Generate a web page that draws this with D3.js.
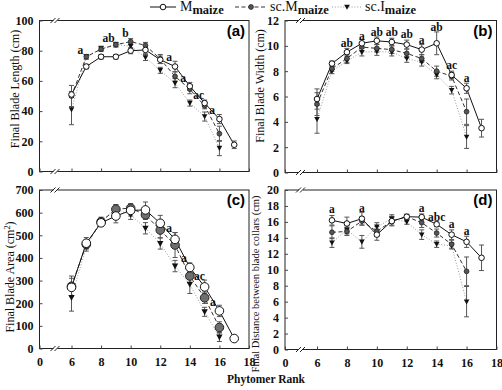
<!DOCTYPE html>
<html>
<head>
<meta charset="utf-8">
<script src="https://cdn.jsdelivr.net/npm/d3@7"></script>
<style>
  body { margin: 0; background: #fff; }
  text { font-family: "Liberation Serif", "DejaVu Serif", serif; }
</style>
</head>
<body>
<div id="chart"></div>
<script>
const width = 502,
  height = 390;

// phytomer ranks
const ranks = [6, 7, 8, 9, 10, 11, 12, 13, 14, 15, 16, 17];
const ranksD = [7, 8, 9, 10, 11, 12, 13, 14, 15, 16, 17];
const xTicks = [0, 6, 8, 10, 12, 14, 16, 18];

// (a) final blade length (cm)
const lenM = [51, 69.5, 76, 76, 80, 80.5, 74, 69.5, 56.5, 45.3, 34.7, 17.7];
const lenMErr = [2, 1.5, 1.5, 1.5, 2, 2.5, 2.5, 3.5, 2.5, 2, 3, 2.5];
const lenScM = [50, 76, 81, 84, 86, 83.5, 74.5, 63, 54.5, 43.5, 25];
const lenScMErr = [7, 1.5, 1.5, 1.5, 2, 2, 3, 3, 3, 2, 5];
const lenScI = [41, 76, 81.5, 84, 83, 75.5, 67, 58.5, 45.3, 36.4, 15.5];
const lenScIErr = [10, 1.5, 1.5, 1.5, 2, 2, 2, 3, 2, 3, 5];
const lenLetters = [
  [6.6, 80.6, "a"], [8.5, 88.7, "ab"], [9.65, 91.6, "b"], [12.6, 75.8, "a"],
  [13.55, 61.9, "a"], [14.6, 50.8, "ac"], [15.5, 40.9, "a"],
];

// (b) final blade width (cm)
const widM = [5.8, 8.6, 9.5, 10.2, 10.4, 10.3, 10.1, 9.7, 10.2, 7.7, 6.65, 3.5];
const widMErr = [0.8, 0.2, 0.3, 0.3, 0.3, 0.3, 0.35, 0.4, 0.9, 0.3, 0.4, 0.7];
const widScM = [5.4, 8.2, 9.0, 9.9, 9.8, 9.7, 9.4, 9.0, 8.0, 7.6, 4.8];
const widScMErr = [0.9, 0.2, 0.3, 0.3, 0.3, 0.3, 0.35, 0.3, 0.4, 0.3, 1.0];
const widScI = [4.2, 8.0, 8.8, 9.5, 9.55, 9.5, 9.0, 8.7, 7.7, 6.5, 2.8];
const widScIErr = [1.1, 0.2, 0.2, 0.3, 0.3, 0.3, 0.3, 0.3, 0.3, 0.3, 0.9];
const widLetters = [
  [8, 10.2, "ab"], [9, 10.8, "a"], [10, 11.1, "ab"], [11, 11.1, "ab"],
  [12, 10.9, "ab"], [13, 10.5, "a"], [14, 11.5, "ab"], [15, 8.5, "ac"],
  [16, 7.45, "a"],
];

// (c) final blade area (cm2)
const areaM = [270, 465, 555, 585, 610, 612, 553, 482, 358, 272, 166, 44];
const areaMErr = [40, 25, 15, 30, 25, 35, 35, 30, 20, 30, 25, 10];
const areaScM = [275, 460, 560, 615, 620, 590, 523, 457, 320, 224, 93];
const areaScMErr = [45, 20, 15, 20, 20, 20, 35, 55, 30, 25, 25];
const areaScI = [225, 450, 565, 615, 590, 531, 464, 364, 283, 162, 51];
const areaScIErr = [60, 20, 15, 20, 20, 25, 25, 25, 40, 20, 20];
const areaLetters = [
  [12.6, 531, "a"], [13.6, 398, "a"], [14.65, 320, "ac"], [15.55, 206, "a"],
];

// (d) final distance between blade collars (cm)
const distM = [16.2, 15.8, 16.4, 14.4, 16.1, 16.65, 16.6, 15.7, 14.4, 13.5, 11.5];
const distMErr = [0.6, 0.8, 0.8, 0.7, 0.6, 0.3, 0.4, 0.3, 0.6, 0.7, 1.6];
const distScM = [14.7, 14.8, 16.1, 14.8, 16.1, 16.65, 15.9, 14.6, 13.2, 9.8];
const distScMErr = [0.8, 0.5, 0.5, 0.6, 0.5, 0.3, 0.6, 0.5, 0.5, 1.8];
const distScI = [13.4, 15.0, 13.5, 15.4, 16.4, 16.0, 14.4, 13.2, 13.0, 6.0];
const distScIErr = [0.6, 0.5, 0.8, 0.5, 0.5, 0.3, 0.6, 0.4, 0.4, 1.9];
const distLetters = [
  [7, 17.6, "a"], [9, 17.8, "a"], [13, 17.7, "a"], [14, 16.6, "abc"],
  [15, 15.7, "a"], [16, 14.8, "a"],
];

const zip = (xs, ys, es) => ys.map((v, i) => ({ x: xs[i], y: v, e: es[i] }));

const styles = {
  M: { stroke: "#111", dash: null },
  scM: { stroke: "#333", dash: "4,2.5" },
  scI: { stroke: "#9a9a9a", dash: "1,1.8" },
};

const svg = d3
  .select("#chart")
  .append("svg")
  .attr("width", width)
  .attr("height", height);

function marker(g, type, cx, cy, big) {
  if (type === "M") {
    g.append("circle")
      .attr("cx", cx).attr("cy", cy)
      .attr("r", big ? 4.3 : 2.8)
      .attr("fill", "#fff").attr("stroke", "#111").attr("stroke-width", 1);
  } else if (type === "scM") {
    g.append("circle")
      .attr("cx", cx).attr("cy", cy)
      .attr("r", big ? 4.3 : 2.4)
      .attr("fill", big ? "#6e6e6e" : "#555").attr("stroke", "#222").attr("stroke-width", big ? 1 : 0.8);
  } else {
    const s = big ? 3.2 : 2.8;
    g.append("path")
      .attr("d", `M${cx - s},${cy - s * 0.8}L${cx + s},${cy - s * 0.8}L${cx},${cy + s}Z`)
      .attr("fill", "#111");
  }
}

function breakMark(g, cx, y) {
  g.append("rect").attr("x", cx - 3).attr("y", y - 3).attr("width", 4).attr("height", 6).attr("fill", "#fff");
  g.append("line").attr("x1", cx - 6).attr("y1", y + 2.5).attr("x2", cx - 1).attr("y2", y - 2.5).attr("stroke", "#222");
  g.append("line").attr("x1", cx - 2).attr("y1", y + 2.5).attr("x2", cx + 3).attr("y2", y - 2.5).attr("stroke", "#222");
}

function drawPanel(p) {
  const x = d3.scaleLinear().domain([0, 6, 18]).range([p.left, p.left + 32, p.right]);
  const y = d3.scaleLinear().domain([0, p.yMax]).range([p.bottom, p.top]);
  const g = svg.append("g");

  g.append("rect")
    .attr("x", p.left).attr("y", p.top)
    .attr("width", p.right - p.left).attr("height", p.bottom - p.top)
    .attr("fill", "none").attr("stroke", "#222").attr("stroke-width", 1);

  const xAxis = d3.axisBottom(x)
    .tickValues(xTicks)
    .tickSizeInner(-3)
    .tickSizeOuter(0)
    .tickPadding(9)
    .tickFormat(p.xLabels ? d3.format("d") : () => "");
  g.append("g")
    .attr("transform", `translate(0,${p.bottom})`)
    .call(xAxis)
    .call((a) => a.select(".domain").remove())
    .call((a) => a.selectAll("line").attr("stroke", "#444"))
    .call((a) => a.selectAll("text").attr("font-size", 12).attr("font-weight", "bold").attr("fill", "#111")
      .style("font-family", "Liberation Serif"));

  const yAxis = d3.axisLeft(y)
    .ticks(p.yMax / p.yStep)
    .tickValues(d3.range(0, p.yMax + p.yStep / 2, p.yStep))
    .tickSizeInner(-3)
    .tickSizeOuter(0)
    .tickPadding(6);
  g.append("g")
    .attr("transform", `translate(${p.left},0)`)
    .call(yAxis)
    .call((a) => a.select(".domain").remove())
    .call((a) => a.selectAll("line").attr("stroke", "#444"))
    .call((a) => a.selectAll("text").attr("font-size", 12).attr("font-weight", "bold").attr("fill", "#111")
      .style("font-family", "Liberation Serif"));

  breakMark(g, p.left + 17, p.bottom);
  breakMark(g, p.left + 17, p.top);

  const line = d3.line().x((d) => x(d.x)).y((d) => y(d.y));

  // lines, drawn back to front
  ["scI", "scM", "M"].forEach((k) => {
    g.append("path")
      .datum(p.series[k])
      .attr("fill", "none")
      .attr("stroke", styles[k].stroke)
      .attr("stroke-width", 1)
      .attr("stroke-dasharray", styles[k].dash)
      .attr("d", line);
  });

  // error bars
  ["scI", "scM", "M"].forEach((k) => {
    p.series[k].forEach((d) => {
      const cx = x(d.x);
      g.append("line").attr("x1", cx).attr("x2", cx)
        .attr("y1", y(d.y - d.e)).attr("y2", y(d.y + d.e))
        .attr("stroke", "#555").attr("stroke-width", 1);
      [d.y - d.e, d.y + d.e].forEach((v) => {
        g.append("line").attr("x1", cx - 2.5).attr("x2", cx + 2.5)
          .attr("y1", y(v)).attr("y2", y(v))
          .attr("stroke", "#555").attr("stroke-width", 1);
      });
    });
  });

  // markers
  ["scI", "scM", "M"].forEach((k) => {
    p.series[k].forEach((d) => marker(g, k, x(d.x), y(d.y), p.big));
  });

  // significance letters
  g.selectAll(".letter")
    .data(p.letters)
    .join("text")
    .attr("x", (d) => x(d[0]))
    .attr("y", (d) => y(d[1]))
    .attr("dy", "0.35em")
    .attr("text-anchor", "middle")
    .attr("font-size", 11.5)
    .attr("font-weight", "bold")
    .attr("fill", "#111")
    .text((d) => d[2]);

  g.append("text")
    .attr("x", p.right - 4)
    .attr("y", p.top + 15)
    .attr("text-anchor", "end")
    .attr("font-size", 15)
    .attr("font-weight", "bold")
    .style("font-family", "Liberation Sans")
    .text(p.tag);

  const t = g.append("text")
    .attr("transform", `translate(${p.titleX},${p.titleY}) rotate(-90)`)
    .attr("text-anchor", "middle")
    .attr("font-size", p.titleSize)
    .attr("fill", "#111");
  t.append("tspan").text(p.title);
  if (p.titleSup) {
    t.append("tspan").attr("dy", -4).attr("font-size", p.titleSize * 0.7).text(p.titleSup);
    t.append("tspan").attr("dy", 4).text(")");
  }
}

drawPanel({
  left: 39.5, right: 249, top: 20.5, bottom: 171.5, yMax: 100, yStep: 20,
  xLabels: false, big: false, tag: "(a)",
  series: { M: zip(ranks, lenM, lenMErr), scM: zip(ranks, lenScM, lenScMErr), scI: zip(ranks, lenScI, lenScIErr) },
  letters: lenLetters,
  title: "Final Blade Length (cm)", titleX: 19, titleY: 89, titleSize: 12,
});

drawPanel({
  left: 285, right: 496.5, top: 20.5, bottom: 172.5, yMax: 12, yStep: 2,
  xLabels: false, big: false, tag: "(b)",
  series: { M: zip(ranks, widM, widMErr), scM: zip(ranks, widScM, widScMErr), scI: zip(ranks, widScI, widScIErr) },
  letters: widLetters,
  title: "Final Blade Width (cm)", titleX: 264, titleY: 86, titleSize: 12,
});

drawPanel({
  left: 39.5, right: 249, top: 190, bottom: 348.5, yMax: 700, yStep: 100,
  xLabels: true, big: true, tag: "(c)",
  series: { M: zip(ranks, areaM, areaMErr), scM: zip(ranks, areaScM, areaScMErr), scI: zip(ranks, areaScI, areaScIErr) },
  letters: areaLetters,
  title: "Final Blade Area (cm", titleSup: "2", titleX: 14, titleY: 277, titleSize: 12,
});

drawPanel({
  left: 285, right: 496.5, top: 190, bottom: 349.5, yMax: 20, yStep: 2,
  xLabels: true, big: false, tag: "(d)",
  series: { M: zip(ranksD, distM, distMErr), scM: zip(ranksD, distScM, distScMErr), scI: zip(ranksD, distScI, distScIErr) },
  letters: distLetters,
  title: "Final Distance between blade collars (cm)", titleX: 259, titleY: 284, titleSize: 10.5,
});

svg.append("text")
  .attr("x", 266)
  .attr("y", 383)
  .attr("text-anchor", "middle")
  .attr("font-size", 11.5)
  .attr("font-weight", "bold")
  .attr("fill", "#111")
  .text("Phytomer Rank");

// legend
const legend = [
  { key: "M", pre: "M", x0: 150, x1: 176, tx: 180 },
  { key: "scM", pre: "sc.M", x0: 235, x1: 267, tx: 270 },
  { key: "scI", pre: "sc.I", x0: 332, x1: 362, tx: 365 },
];
const lg = svg.append("g");
legend.forEach((d) => {
  const ly = 7;
  lg.append("line")
    .attr("x1", d.x0).attr("x2", d.x1).attr("y1", ly).attr("y2", ly)
    .attr("stroke", styles[d.key].stroke)
    .attr("stroke-dasharray", styles[d.key].dash);
  marker(lg, d.key, (d.x0 + d.x1) / 2, ly, false);
  const t = lg.append("text").attr("x", d.tx).attr("y", 11).attr("font-size", 14).attr("fill", "#111");
  t.append("tspan").text(d.pre);
  t.append("tspan").attr("dy", 2.5).attr("font-size", 12.5).attr("font-weight", "bold").text("maize");
});
</script>
</body>
</html>
